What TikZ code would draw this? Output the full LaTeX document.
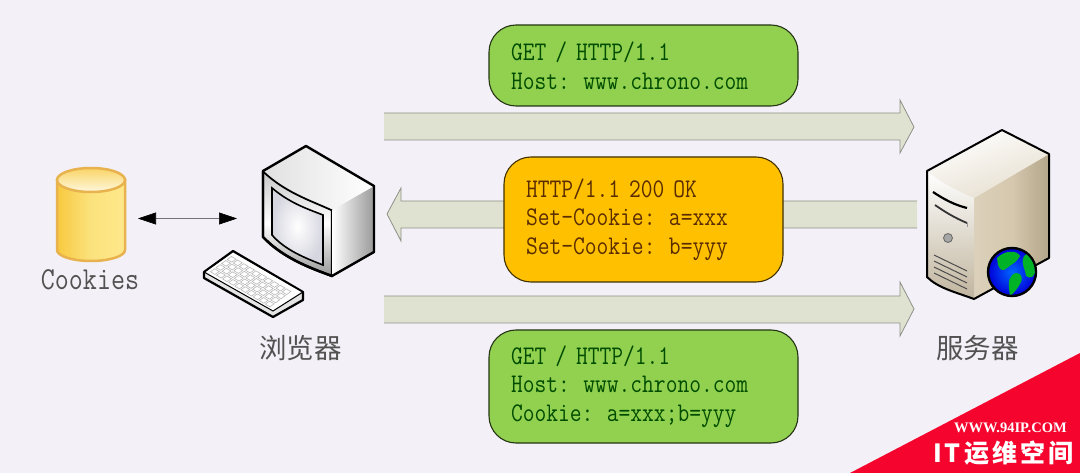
\documentclass[tikz,border=0pt]{standalone}
\usepackage{fontspec}
\usetikzlibrary{arrows.meta,calc}
\newfontfamily\codefont[FakeStretch=0.85]{Latin Modern Mono}
\newfontfamily\cjkfont{Noto Sans CJK SC}
\newfontfamily\wmfont{Liberation Serif}
\definecolor{bgc}{HTML}{F3F1F7}
\definecolor{arrowfill}{HTML}{DFE2D0}
\definecolor{arrowline}{HTML}{8D9088}
\definecolor{jarline}{HTML}{E8B24E}
\definecolor{jarA}{HTML}{F8C93F}
\definecolor{jarB}{HTML}{FBE27E}
\definecolor{jarC}{HTML}{FFE88A}
\definecolor{badge}{HTML}{F5052E}
\tikzset{
  msgbox/.style={draw=#1!25!black,line width=1.1pt,rounded corners=27pt,inner xsep=22pt,inner ysep=0pt,anchor=center,align=left,font=\codefont\fontsize{26.9}{28.6}\selectfont},
  blockarrow/.style={fill=arrowfill,draw=arrowline,line width=.8pt,line join=miter},
  iconline/.style={draw=black,line width=2.4pt,line join=round},
  label/.style={text=black!68,inner sep=0pt,anchor=center},
  cjklabel/.style={label,font=\cjkfont\fontsize{27.5}{30}\selectfont},
}
\begin{document}
\begin{tikzpicture}[x=1pt,y=-1pt]
\useasboundingbox (0,0) rectangle (1080,473);
\fill[bgc] (0,0) rectangle (1080,473);

% block arrows
\path[blockarrow] (384,113) -- (900,113) -- (900,100) -- (914,127) -- (900,153) -- (900,140) -- (384,140);
\path[blockarrow] (917,201) -- (401,201) -- (401,188) -- (387,214) -- (401,241) -- (401,228) -- (917,228);
\path[blockarrow] (384,296) -- (900,296) -- (900,282) -- (914,309) -- (900,336) -- (900,323) -- (384,323);

% message boxes
\definecolor{greenbox}{HTML}{92D050}
\definecolor{orangebox}{HTML}{FFC000}
\node[msgbox=greenbox,fill=greenbox,text=green!30!black,text width=265pt,minimum height=81pt] (req1) at (643.5,65.5) {GET / HTTP/1.1\\Host: www.chrono.com};
\node[msgbox=orangebox,fill=orangebox,text=orange!35!black,text width=235pt,minimum height=125pt] (resp) at (643.5,219.5) {HTTP/1.1 200 OK\\Set-Cookie: a=xxx\\Set-Cookie: b=yyy};
\node[msgbox=greenbox,fill=greenbox,text=green!30!black,text width=265pt,minimum height=113pt] (req2) at (643.5,386.5) {GET / HTTP/1.1\\Host: www.chrono.com\\Cookie: a=xxx;b=yyy};

% cookie jar
\path[draw=jarline,line width=2.5pt,left color=jarA,right color=jarC,middle color=jarB]
  (57,180) -- (57,250) arc[start angle=180,end angle=0,x radius=34,y radius=11] -- (125,180) -- cycle;
\path[draw=jarline,line width=2.5pt,left color=jarA!80!white,right color=white!75!jarB,shading angle=0]
  (91,180) ellipse[x radius=34,y radius=12];
\node[label,font=\codefont\fontsize{32}{33}\selectfont] (cookies) at (90,280) {Cookies};

% monitor
\path[iconline,top color=black!22,bottom color=black!40,middle color=white] (263,171) .. controls (285,192) and (310,200) .. (332,210) -- (332,276) .. controls (310,268) and (283,258) .. (263,237) -- cycle;
\path[shade,left color=white,right color=black!40] (332,210) -- (374,186) -- (374,252) -- (332,276) -- cycle;
\path[shade,left color=black!12,right color=white] (263,171) -- (306,146) -- (374,186) -- (332,210) .. controls (310,200) and (285,192) .. (263,171) -- cycle;
\path[draw=black,line width=1.6pt,inner color=white,outer color=blue!25!black!16] (272,188) .. controls (290,203) and (305,208) .. (323,215) -- (323,265) .. controls (305,258) and (285,250) .. (272,235) -- cycle;
\draw[iconline] (263,171) -- (306,146) -- (374,186) -- (374,252) -- (332,276) .. controls (310,268) and (283,258) .. (263,237) -- cycle;
\draw[iconline,line width=1.1pt] (263,171) .. controls (285,192) and (310,200) .. (332,210);

% keyboard
\path[fill=black!10,draw=black,line width=2.2pt,line join=round] (204,272) -- (233,251) -- (303,292) -- (303,300) -- (273,317) -- (204,278) -- cycle;
\path[fill=white] (206,272) -- (233,253) -- (301,292) -- (272,311) -- cycle;
\draw[black,line width=1pt] (204,272) -- (273,311) -- (303,292);
\foreach \i in {0,...,3}{\foreach \j in {0,...,9}{
  \pgfmathsetmacro{\ax}{209+(\i+.15)*5.6+(\j+.1)*6.1}
  \pgfmathsetmacro{\ay}{272-(\i+.15)*4.1+(\j+.1)*3.6}
  \draw[black!28,line width=.6pt] (\ax,\ay) -- ++(4.2,-3) -- ++(4.6,2.7) -- ++(-4.2,3) -- cycle;
}}
\node[cjklabel] (browser) at (300.5,348) {浏览器};

% double arrow between cookies and browser
\coordinate (jarport) at (138,218.5);
\coordinate (pcport) at (237,218.5);
\draw[{Triangle[length=18pt,width=12pt,black]}-{Triangle[length=18pt,width=12pt,black]},black!55,line width=.6pt] (jarport) -- (pcport);

% server
\definecolor{srvdark}{HTML}{A08F6C}
\definecolor{srvmid}{HTML}{D5C8AE}
\path[shade,left color=srvmid!85!white,right color=srvdark!80!white,middle color=srvmid] (974,198) -- (1049,154) -- (1049,258) -- (974,299) -- cycle;
\path[shade,top color=white,bottom color=srvmid!90!black] (927,171) .. controls (945,185) and (960,192) .. (974,198) -- (974,299) .. controls (955,292) and (938,288) .. (927,277) -- cycle;
\path[shade,left color=white,right color=srvmid!60!white,shading angle=20] (927,171) -- (1002,130) -- (1049,154) -- (974,198) .. controls (960,192) and (945,185) .. (927,171) -- cycle;
\draw[iconline,line width=2pt] (927,171) -- (1002,130) -- (1049,154) -- (1049,258) -- (974,299) .. controls (955,292) and (938,288) .. (927,277) -- cycle;
\draw[black,line width=2.2pt] (933,192) .. controls (945,200) and (955,205) .. (967,208);
\draw[black!80,line width=1.8pt] (935,205) .. controls (945,212) and (955,218) .. (967,223);
\draw[black!40,line width=1pt] (967,223) -- (967,227);
\fill[black!35,draw=black!60,line width=.8pt] (948,238) circle[radius=4.5];
\foreach \d in {0,6,12,18}{\draw[black!70,line width=1pt] (934,{255+\d}) -- (967,{271+\d});}

% globe
\path[draw=black,line width=2.4pt,inner color=blue!60!cyan,outer color=blue!85!black] (1012,272) circle[radius=24];
\begin{scope}
\clip (1012,272) circle[radius=22.8];
\fill[green!65!black!85!cyan] (997,258) .. controls (1005,250) and (1017,250) .. (1020,256) .. controls (1017,262) and (1012,264) .. (1007,268) .. controls (1003,272) and (1000,270) .. (998,265) -- cycle;
\fill[green!65!black!85!cyan] (1012,275) .. controls (1018,270) and (1024,275) .. (1021,282) .. controls (1018,288) and (1014,293) .. (1010,296) .. controls (1009,288) and (1007,280) .. (1012,275) -- cycle;
\fill[green!65!black!85!cyan] (1024,256) .. controls (1030,250) and (1036,258) .. (1037,268) .. controls (1036,276) and (1030,280) .. (1026,276) .. controls (1026,270) and (1020,264) .. (1024,256) -- cycle;
\end{scope}
\node[cjklabel] (server) at (977.5,348) {服务器};

% corner badge
\fill[badge] (1080,353) -- (1080,473) -- (850,473) -- cycle;
\node[inner sep=0pt,text=white,font=\wmfont\bfseries\fontsize{14.5}{17}\selectfont] (site) at (1010.5,428) {WWW.94IP.COM};
\node[inner sep=0pt,text=white,font=\cjkfont\bfseries\fontsize{25}{30}\selectfont] (brand) at (1003.5,453) {I\kern2pt T\kern4pt 运\kern3pt 维\kern3pt 空\kern3pt 间};
\end{tikzpicture}
\end{document}
